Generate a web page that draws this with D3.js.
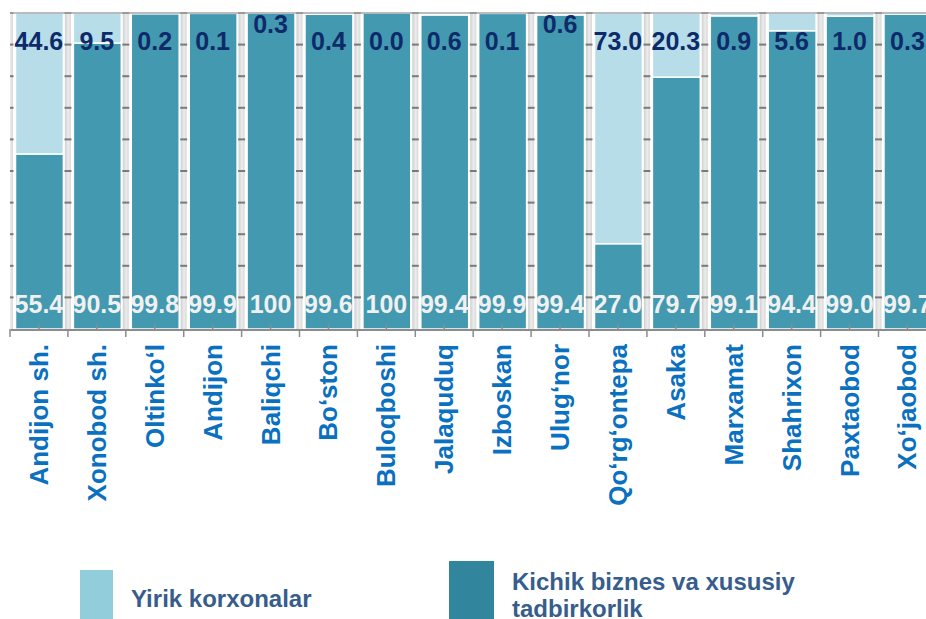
<!DOCTYPE html>
<html>
<head>
<meta charset="utf-8">
<script src="https://cdn.jsdelivr.net/npm/d3@7"></script>
<style>
  html, body { margin: 0; padding: 0; background: #fff; }
  svg { display: block; font-family: "Liberation Sans", Arial, sans-serif; }
</style>
</head>
<body>
<svg id="chart" width="926" height="619"></svg>
<script>
// districts, left to right
var districts = ["Andijon sh.", "Xonobod sh.", "Oltinko‘l", "Andijon", "Baliqchi", "Bo‘ston",
  "Buloqboshi", "Jalaquduq", "Izboskan", "Ulug‘nor", "Qo‘rg‘ontepa", "Asaka",
  "Marxamat", "Shahrixon", "Paxtaobod", "Xo‘jaobod"];

// shares in %, large enterprises (top) and small business (bottom)
var yirik = [44.6, 9.5, 0.2, 0.1, 0.3, 0.4, 0.0, 0.6, 0.1, 0.6, 73.0, 20.3, 0.9, 5.6, 1.0, 0.3];
var kichik = [55.4, 90.5, 99.8, 99.9, 100, 99.6, 100, 99.4, 99.9, 99.4, 27.0, 79.7, 99.1, 94.4, 99.0, 99.7];

var legendNames = ["Yirik korxonalar", "Kichik biznes va xususiy", "tadbirkorlik"];

// labels that sit a bit higher in the original
var raised = ["Baliqchi", "Ulug‘nor"];

var svg = d3.select("#chart");
var plotLeft = 10, plotTop = 13, plotBottom = 329;
var step = 57.9;

var x = d3.scaleBand().domain(districts).range([plotLeft, plotLeft + districts.length * step]);
var y = d3.scaleLinear().domain([0, 100]).range([plotBottom, plotTop]);

var rows = districts.map(function (d, i) {
  return { name: d, yirik: yirik[i], kichik: kichik[i] };
});

var defs = svg.append("defs");
defs.append("clipPath").attr("id", "plotclip")
  .append("rect").attr("x", plotLeft).attr("y", 0).attr("width", 926 - plotLeft).attr("height", plotBottom + 1);

var grad = defs.append("linearGradient").attr("id", "pillar").attr("x1", 0).attr("x2", 1).attr("y1", 0).attr("y2", 0);
grad.append("stop").attr("offset", "0%").attr("stop-color", "#cfcfcf");
grad.append("stop").attr("offset", "55%").attr("stop-color", "#ececec");
grad.append("stop").attr("offset", "100%").attr("stop-color", "#d8d8d8");

var plot = svg.append("g").attr("clip-path", "url(#plotclip)");

// gray pillars between the bars, with the y ticks on them
var bounds = d3.range(districts.length + 1).map(function (i) { return plotLeft + i * x.step(); });

plot.selectAll("rect.pillar").data(bounds).enter().append("rect")
  .attr("class", "pillar")
  .attr("x", function (d) { return d - 3; })
  .attr("y", plotTop)
  .attr("width", 6)
  .attr("height", plotBottom - plotTop)
  .attr("fill", "url(#pillar)");

var yt = y.ticks(10).filter(function (t) { return t > 0; });
bounds.forEach(function (b) {
  plot.selectAll(null).data(yt).enter().append("rect")
    .attr("x", b - 3.5)
    .attr("y", function (t) { return y(t) - 1; })
    .attr("width", 7)
    .attr("height", 2)
    .attr("fill", "#7a7a7a");
});

// top frame line
svg.append("line")
  .attr("x1", plotLeft).attr("x2", 926)
  .attr("y1", plotTop).attr("y2", plotTop)
  .attr("stroke", "#a6a6a6").attr("stroke-width", 1.5);

var barW = x.bandwidth() - 10;

// small business (bottom part)
plot.selectAll("rect.kichik").data(rows).enter().append("rect")
  .attr("class", "kichik")
  .attr("x", function (d) { return x(d.name) + 5.5; })
  .attr("y", function (d) { return y(d.kichik); })
  .attr("width", barW)
  .attr("height", function (d) { return plotBottom - y(d.kichik); })
  .attr("fill", "#4399b0")
  .attr("stroke", "#fff").attr("stroke-width", 1.5);

// large enterprises (top part)
plot.selectAll("rect.yirik").data(rows).enter().append("rect")
  .attr("class", "yirik")
  .attr("x", function (d) { return x(d.name) + 5.5; })
  .attr("y", function (d) { return y(d.kichik + d.yirik); })
  .attr("width", barW)
  .attr("height", function (d) { return y(d.kichik) - y(d.kichik + d.yirik); })
  .attr("fill", "#b6dde8")
  .attr("stroke", "#fff").attr("stroke-width", 1.5);

// bottom axis
var xAxis = d3.axisBottom(x).tickSizeInner(-5).tickSizeOuter(0).tickFormat("");
var ax = svg.append("g").attr("transform", "translate(0," + (plotBottom + 0.5) + ")").call(xAxis);
ax.select(".domain").attr("stroke", "#8c8c8c").attr("stroke-width", 2);
ax.selectAll(".tick line").attr("stroke", "#8c8c8c").attr("stroke-width", 1.5);

svg.selectAll("line.bound").data(bounds).enter().append("line")
  .attr("class", "bound")
  .attr("x1", function (d) { return d; }).attr("x2", function (d) { return d; })
  .attr("y1", plotBottom).attr("y2", plotBottom + 8)
  .attr("stroke", "#8c8c8c").attr("stroke-width", 1.5);

// value labels
var cx = function (d) { return x(d.name) + x.bandwidth() / 2; };

svg.selectAll("text.top").data(rows).enter().append("text")
  .attr("class", "top")
  .attr("x", cx)
  .attr("y", function (d) { return raised.indexOf(d.name) >= 0 ? 33 : 50; })
  .attr("text-anchor", "middle")
  .attr("font-size", 25).attr("font-weight", "bold")
  .attr("fill", "#0e2a6a")
  .text(function (d) { return d.yirik.toFixed(1); });

svg.selectAll("text.bot").data(rows).enter().append("text")
  .attr("class", "bot")
  .attr("x", cx)
  .attr("y", 313)
  .attr("text-anchor", "middle")
  .attr("font-size", 25).attr("font-weight", "bold")
  .attr("fill", "#f0f0f0")
  .text(function (d) { return d.kichik === 100 ? "100" : d.kichik.toFixed(1); });

// category names, rotated
svg.selectAll("text.cat").data(rows).enter().append("text")
  .attr("class", "cat")
  .attr("transform", function (d) { return "translate(" + cx(d) + ",344) rotate(-90)"; })
  .attr("x", 0).attr("y", 9)
  .attr("text-anchor", "end")
  .attr("font-size", 26).attr("font-weight", "bold")
  .attr("fill", "#0a70c0")
  .text(function (d) { return d.name; });

// legend
var legend = svg.append("g");
legend.append("rect").attr("x", 80).attr("y", 570).attr("width", 33).attr("height", 60).attr("fill", "#92cddc");
legend.append("rect").attr("x", 449).attr("y", 561).attr("width", 45).attr("height", 70).attr("fill", "#31859c");

legend.append("text").attr("x", 131).attr("y", 607)
  .attr("font-size", 24).attr("font-weight", "bold").attr("fill", "#375d8c")
  .text(legendNames[0]);
legend.append("text").attr("x", 512).attr("y", 590)
  .attr("font-size", 24).attr("font-weight", "bold").attr("fill", "#375d8c")
  .text(legendNames[1]);
legend.append("text").attr("x", 512).attr("y", 617)
  .attr("font-size", 24).attr("font-weight", "bold").attr("fill", "#375d8c")
  .text(legendNames[2]);
</script>
</body>
</html>
